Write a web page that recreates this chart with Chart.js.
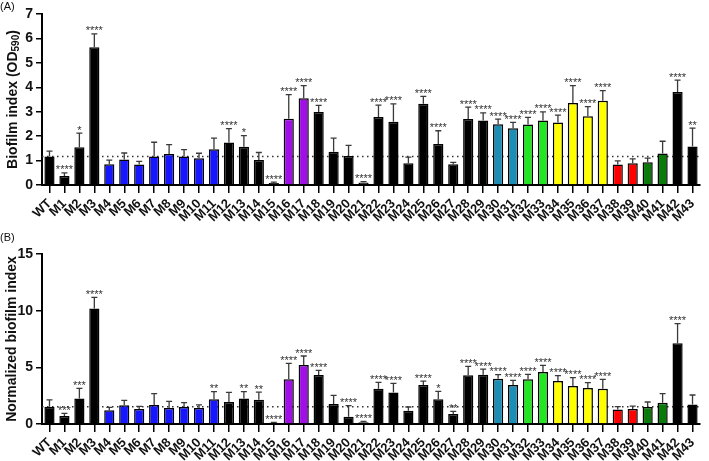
<!DOCTYPE html>
<html>
<head>
<meta charset="utf-8">
<script src="https://cdn.jsdelivr.net/npm/chart.js@4/dist/chart.umd.min.js"></script>
<style>
  body { margin: 0; background: #fff; }
  #wrap { position: relative; width: 709px; height: 461px; overflow: hidden; }
  canvas { position: absolute; left: 0; }
  .panel { position: absolute; left: 0; font: 11px 'Liberation Sans', Arial, sans-serif; color: #111; }
</style>
</head>
<body>
<div id="wrap">
  <canvas id="chartA" width="709" height="232" style="top:0"></canvas>
  <canvas id="chartB" width="709" height="231" style="top:230px"></canvas>
  <div class="panel" style="top:0">(A)</div>
  <div class="panel" style="top:231px">(B)</div>
</div>
<script>
// strains
const strains = ['WT','M1','M2','M3','M4','M5','M6','M7','M8','M9','M10','M11','M12','M13','M14','M15',
  'M16','M17','M18','M19','M20','M21','M22','M23','M24','M25','M26','M27','M28','M29','M30','M31',
  'M32','M33','M34','M35','M36','M37','M38','M39','M40','M41','M42','M43'];

// (A) biofilm index OD590 - mean and SD
const biofilmMean = [1.17,0.37,1.55,5.64,0.85,1.04,0.84,1.17,1.27,1.17,1.09,1.46,1.74,1.57,1.02,0.08,
  2.71,3.55,2.99,1.36,1.19,0.10,2.78,2.59,0.89,3.33,1.68,0.85,2.70,2.64,2.49,2.32,
  2.48,2.64,2.56,3.36,2.81,3.45,0.84,0.89,0.93,1.29,3.81,1.58];
const biofilmSd = [0.22,0.13,0.57,0.55,0.17,0.27,0.13,0.58,0.38,0.28,0.21,0.46,0.57,0.45,0.31,0.04,
  0.99,0.52,0.27,0.56,0.43,0.04,0.49,0.73,0.25,0.30,0.54,0.08,0.49,0.31,0.21,0.24,
  0.29,0.35,0.30,0.71,0.40,0.41,0.15,0.18,0.17,0.50,0.48,0.75];
const biofilmSig = ['','****','*','****','','','','','','','','','****','*','','****',
  '****','****','****','','','****','****','****','','****','****','','****','****','****','****',
  '****','****','****','****','****','****','','','','','****','**'];

// (B) normalized biofilm index - mean and SD
const normMean = [1.53,0.71,2.26,10.2,1.21,1.65,1.32,1.68,1.41,1.50,1.41,2.18,1.94,2.24,2.15,0.12,
  3.94,5.20,4.32,1.76,0.65,0.16,3.12,2.79,1.18,3.44,2.18,0.88,4.30,4.35,4.00,3.44,
  3.94,4.59,3.79,3.35,3.18,3.12,1.29,1.32,1.50,1.88,7.12,1.71];
const normSd = [0.59,0.23,0.89,0.98,0.26,0.44,0.24,1.00,0.59,0.38,0.27,0.67,0.85,0.61,0.67,0.02,
  1.41,0.80,0.42,0.77,0.97,0.06,0.56,0.80,0.32,0.35,0.70,0.24,0.79,0.50,0.35,0.41,
  0.44,0.59,0.47,0.74,0.47,0.82,0.25,0.25,0.44,0.80,1.73,0.85];
const normSig = ['','***','***','****','','','','','','','','**','','**','**','****',
  '****','****','****','','****','****','****','****','','****','*','**','****','****','****','****',
  '****','****','****','****','****','****','','','','','****',''];

// colour groups of the mutants
const groupColors = {
  k: '#000000', b: '#1616ff', p: '#a010e6', t: '#1c8db5',
  g: '#22e622', y: '#ffff00', r: '#ff0000', d: '#0a7a0a'
};
const groupOf = 'kkkkbbbbbbbbkkkkppkkkkkkkkkkkkttggyyyyrrddkk';
const barColors = groupOf.split('').map(c => groupColors[c]);

const FONT = "'Liberation Sans', Arial, sans-serif";
Chart.defaults.font.family = FONT;
Chart.defaults.color = '#111';

// dotted WT line, error bars, significance stars, and a y title with subscript
const annot = {
  id: 'annot',
  beforeDatasetsDraw(chart, args, opts) {
    const ctx = chart.ctx, y = chart.scales.y.getPixelForValue(opts.values[0]);
    ctx.save();
    ctx.strokeStyle = '#333';
    ctx.lineWidth = 1.5;
    ctx.setLineDash([1.5, 3.5]);
    ctx.beginPath();
    ctx.moveTo(chart.chartArea.left, y);
    ctx.lineTo(chart.chartArea.right, y);
    ctx.stroke();
    ctx.restore();
  },
  afterDatasetsDraw(chart, args, opts) {
    const ctx = chart.ctx, ys = chart.scales.y;
    const bars = chart.getDatasetMeta(0).data;
    ctx.save();
    ctx.strokeStyle = '#3a3a3a';
    ctx.lineWidth = 1.3;
    ctx.fillStyle = '#333';
    ctx.font = '11px ' + FONT;
    ctx.textAlign = 'center';
    ctx.textBaseline = 'alphabetic';
    bars.forEach((bar, i) => {
      const top = ys.getPixelForValue(opts.values[i]);
      const cap = ys.getPixelForValue(opts.values[i] + opts.errors[i]);
      ctx.beginPath();
      ctx.moveTo(bar.x, top);
      ctx.lineTo(bar.x, cap);
      ctx.moveTo(bar.x - 3, cap);
      ctx.lineTo(bar.x + 3, cap);
      ctx.stroke();
      if (opts.stars[i]) ctx.fillText(opts.stars[i], bar.x, cap + 0.5);
    });
    ctx.restore();
  },
  afterDraw(chart, args, opts) {
    if (!opts.title) return;
    const ctx = chart.ctx, area = chart.chartArea;
    const [main, sub, tail] = opts.title;
    ctx.save();
    ctx.translate(13, (area.top + area.bottom) / 2);
    ctx.rotate(-Math.PI / 2);
    ctx.fillStyle = '#111';
    ctx.textBaseline = 'middle';
    ctx.textAlign = 'left';
    ctx.font = 'bold 14px ' + FONT;
    const w1 = ctx.measureText(main).width, w3 = ctx.measureText(tail).width;
    ctx.font = 'bold 10px ' + FONT;
    const w2 = ctx.measureText(sub).width;
    let x = -(w1 + w2 + w3) / 2;
    ctx.font = 'bold 14px ' + FONT;
    ctx.fillText(main, x, 0);
    x += w1;
    ctx.font = 'bold 10px ' + FONT;
    ctx.fillText(sub, x, 3);
    x += w2;
    ctx.font = 'bold 14px ' + FONT;
    ctx.fillText(tail, x, 0);
    ctx.restore();
  }
};

function makePanel(id, values, errors, stars, yMax, yStep, yTitle, padTop, padBottom, xHeight) {
  const plainTitle = typeof yTitle === 'string';
  return new Chart(document.getElementById(id), {
    type: 'bar',
    data: {
      labels: strains,
      datasets: [{
        data: values,
        backgroundColor: barColors,
        borderColor: '#000',
        borderWidth: 1.5,
        barPercentage: 0.68,
        categoryPercentage: 1.0
      }]
    },
    options: {
      responsive: false,
      animation: false,
      devicePixelRatio: 1,
      layout: { padding: { top: padTop, right: 9, bottom: padBottom, left: 0 } },
      plugins: {
        legend: { display: false },
        tooltip: { enabled: false },
        annot: { values: values, errors: errors, stars: stars, title: plainTitle ? null : yTitle }
      },
      scales: {
        x: {
          offset: true,
          grid: { offset: false, drawOnChartArea: false, tickLength: 8, color: '#000', lineWidth: 1.5 },
          border: { color: '#000', width: 2 },
          ticks: {
            autoSkip: false, maxRotation: 45, minRotation: 45, padding: 3,
            color: '#111', font: { size: 13, weight: 'bold' }
          },
          afterFit(s) { s.height = xHeight; }
        },
        y: {
          min: 0, max: yMax,
          grid: { drawOnChartArea: false, tickLength: 6, color: '#000', lineWidth: 1.5 },
          border: { color: '#000', width: 2 },
          ticks: { stepSize: yStep, padding: 3, color: '#111', font: { size: 14, weight: 'bold' } },
          title: {
            display: plainTitle, text: plainTitle ? yTitle : '', color: '#111',
            font: { size: 14, weight: 'bold' }, padding: { top: 4, bottom: 0 }
          },
          afterFit(s) { s.width = 42; }
        }
      }
    },
    plugins: [annot]
  });
}

makePanel('chartA', biofilmMean, biofilmSd, biofilmSig, 7, 1, ['Biofilm index (OD', '590', ')'], 14, 7, 40);
makePanel('chartB', normMean, normSd, normSig, 15, 5, 'Normalized biofilm index', 24, 0, 37);
</script>
</body>
</html>
